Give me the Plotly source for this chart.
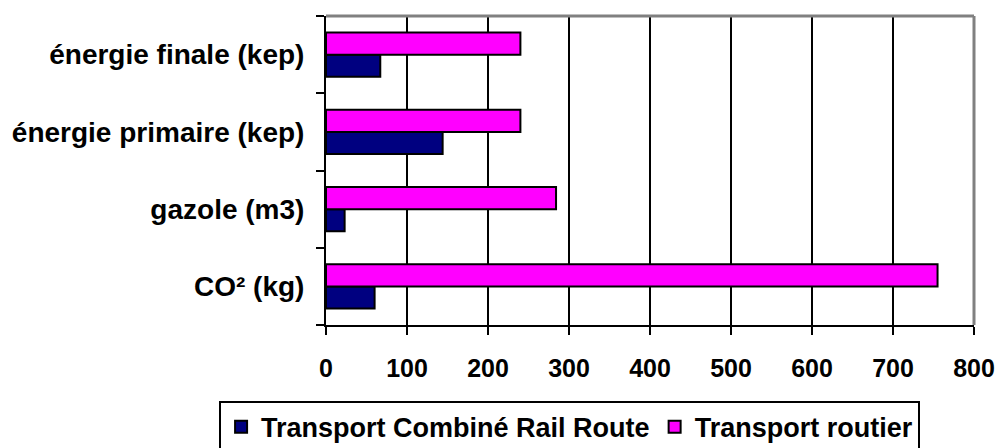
import plotly.graph_objects as go

# Categories listed bottom-to-top along the y axis
categories = ["CO² (kg)", "gazole (m3)", "énergie primaire (kep)", "énergie finale (kep)"]
combine_rail_route = [60, 23, 144, 67]
transport_routier = [755, 284, 240, 240]
x_ticks = [0, 100, 200, 300, 400, 500, 600, 700, 800]

FONT = "Liberation Sans, Arial, sans-serif"

fig = go.Figure()
fig.add_trace(go.Bar(
    y=categories, x=combine_rail_route, orientation="h",
    name="Transport Combiné Rail Route",
    marker=dict(color="#000080", line=dict(color="black", width=2)),
))
fig.add_trace(go.Bar(
    y=categories, x=transport_routier, orientation="h",
    name="Transport routier",
    marker=dict(color="#ff00ff", line=dict(color="black", width=2)),
))

fig.update_layout(
    width=999, height=448,
    margin=dict(l=326, r=25, t=16, b=123, autoexpand=False),
    paper_bgcolor="white", plot_bgcolor="white",
    barmode="group", bargap=0.43, bargroupgap=0,
    font=dict(family=FONT, color="black"),
    showlegend=True,
    legend=dict(
        orientation="h",
        x=-0.165, xanchor="left",
        y=-0.245, yanchor="top",
        bordercolor="black", borderwidth=2,
        font=dict(family=FONT, size=27, color="black", weight="bold"),
        itemwidth=30, traceorder="normal",
    ),
    xaxis=dict(
        range=[0, 800], tickvals=x_ticks, ticktext=[str(v) for v in x_ticks],
        showgrid=True, gridcolor="black", gridwidth=2,
        showline=True, linecolor="black", linewidth=2,
        ticks="outside", ticklen=8, tickwidth=2, tickcolor="black",
        tickfont=dict(family=FONT, size=25, color="black", weight="bold"),
        ticklabelstandoff=12, automargin=False,
        zeroline=False, fixedrange=True,
    ),
    yaxis=dict(
        categoryorder="array", categoryarray=categories,
        showgrid=False, showline=True, linecolor="black", linewidth=2,
        ticks="outside", tickson="boundaries", ticklen=8, tickwidth=2, tickcolor="black",
        tickfont=dict(family=FONT, size=28, color="black", weight="bold"),
        ticklabelstandoff=14, automargin=False,
        zeroline=False, fixedrange=True,
    ),
    shapes=[
        dict(type="line", xref="paper", yref="paper", x0=0, x1=1, y0=1, y1=1,
             line=dict(color="#808080", width=3), layer="above"),
        dict(type="line", xref="paper", yref="paper", x0=1, x1=1, y0=0, y1=1,
             line=dict(color="#808080", width=3), layer="above"),
    ],
)

fig.write_html("out.html")
